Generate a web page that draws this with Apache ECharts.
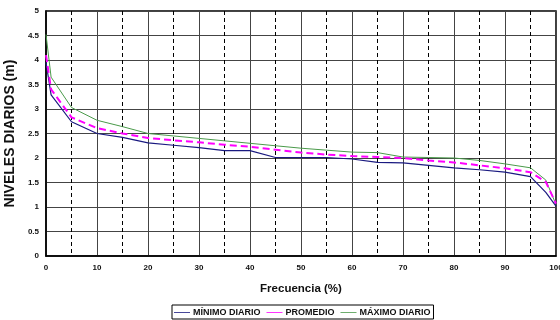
<!DOCTYPE html>
<html><head><meta charset="utf-8">
<script src="https://cdn.jsdelivr.net/npm/echarts@6/dist/echarts.min.js"></script>
<style>html,body{margin:0;padding:0;background:#fff}#c{width:560px;height:320px}</style>
</head><body><div id="c"></div>
<script>
const frecuencia = [0, 1, 5, 10, 15, 20, 25, 30, 35, 40, 45, 50, 55, 60, 65, 70, 75, 80, 85, 90, 95, 98, 100];
const minimoDiario = [3.95, 3.29, 2.74, 2.50, 2.42, 2.31, 2.26, 2.21, 2.15, 2.15, 2.01, 2.01, 2.01, 1.98, 1.91, 1.90, 1.85, 1.80, 1.76, 1.71, 1.62, 1.30, 1.02];
const promedio = [4.10, 3.40, 2.83, 2.61, 2.50, 2.41, 2.36, 2.32, 2.27, 2.23, 2.17, 2.11, 2.07, 2.04, 2.02, 2.00, 1.95, 1.91, 1.85, 1.79, 1.71, 1.51, 1.07];
const maximoDiario = [4.52, 3.65, 3.03, 2.77, 2.64, 2.50, 2.45, 2.40, 2.35, 2.30, 2.25, 2.20, 2.16, 2.12, 2.11, 2.02, 2.01, 2.00, 1.95, 1.88, 1.80, 1.55, 1.05];
const seriesNames = ['MÍNIMO DIARIO', 'PROMEDIO', 'MÁXIMO DIARIO'];

const pairs = arr => frecuencia.map((f, i) => [f, arr[i]]);
const F = 'Liberation Sans, Arial, sans-serif';
const chart = echarts.init(document.getElementById('c'), null, {renderer: 'canvas'});
chart.setOption({
  animation: false,
  textStyle: {fontFamily: F},
  grid: {left: 46, right: 4, top: 11, bottom: 64, outerBoundsMode: 'none', containLabel: false,
         show: true, borderColor: '#000', borderWidth: 1.5, backgroundColor: 'transparent'},
  legend: {
    bottom: 1, left: 172, data: seriesNames,
    itemWidth: 16, itemHeight: 8, itemGap: 6,
    borderColor: '#000', borderWidth: 1, padding: [3, 3, 2, 2],
    textStyle: {fontFamily: F, fontWeight: 'bold', fontSize: 9, color: '#111', padding: [0, 0, 0, -2]},
    icon: 'path://M0,4 L20,4 L20,5 L0,5 Z'
  },
  xAxis: {
    type: 'value', min: 0, max: 100, interval: 10,
    name: 'Frecuencia (%)', nameLocation: 'middle', nameGap: 27,
    nameTextStyle: {fontFamily: F, fontWeight: 'bold', fontSize: 11.5, color: '#111'},
    axisLine: {show: true, lineStyle: {color: '#000', width: 1.5}},
    axisTick: {show: false},
    axisLabel: {fontFamily: F, fontWeight: 'bold', fontSize: 8, color: '#111', margin: 8},
    splitLine: {show: true, lineStyle: {color: '#444', width: 1}},
    minorTick: {show: false, splitNumber: 2},
    minorSplitLine: {show: true, lineStyle: {color: '#000', width: 1, type: [4, 3]}}
  },
  yAxis: {
    type: 'value', min: 0, max: 5, interval: 0.5,
    name: 'NIVELES DIARIOS (m)', nameLocation: 'middle', nameGap: 26, nameRotate: 90,
    nameTextStyle: {fontFamily: F, fontWeight: 'bold', fontSize: 14, color: '#111'},
    axisLine: {show: true, lineStyle: {color: '#000', width: 1.5}},
    axisTick: {show: false},
    axisLabel: {fontFamily: F, fontWeight: 'bold', fontSize: 8, color: '#111', margin: 7},
    splitLine: {show: true, lineStyle: {color: '#444', width: 1}}
  },
  series: [
    {name: seriesNames[0], type: 'line', data: pairs(minimoDiario), showSymbol: false, symbol: 'none',
     itemStyle: {color: '#1a1a80'}, lineStyle: {color: '#1a1a80', width: 1.2}, z: 3},
    {name: seriesNames[1], type: 'line', data: pairs(promedio), showSymbol: false, symbol: 'none',
     itemStyle: {color: '#ff00ff'}, lineStyle: {color: '#ff00ff', width: 2, type: [7, 4]}, z: 4},
    {name: seriesNames[2], type: 'line', data: pairs(maximoDiario), showSymbol: false, symbol: 'none',
     itemStyle: {color: '#4a9a4a'}, lineStyle: {color: '#4a9a4a', width: 1}, z: 2}
  ]
});
</script></body></html>
